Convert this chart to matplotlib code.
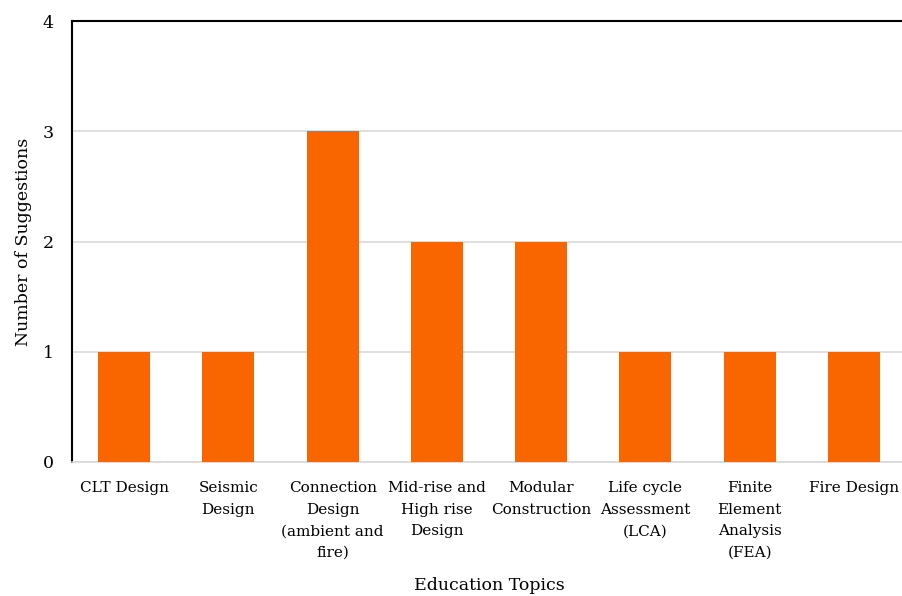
import matplotlib
matplotlib.use('Agg')
import matplotlib.pyplot as plt
import numpy as np

plt.rcParams['font.family'] = ['DejaVu Serif']
plt.rcParams['font.size'] = 11

topics = ['CLT Design', 'Seismic\nDesign', 'Connection\nDesign\n(ambient and\nfire)',
          'Mid-rise and\nHigh rise\nDesign', 'Modular\nConstruction',
          'Life cycle\nAssessment\n(LCA)', 'Finite\nElement\nAnalysis\n(FEA)', 'Fire Design']
suggestions = [1, 1, 3, 2, 2, 1, 1, 1]

fig = plt.figure(figsize=(9.03, 5.96), dpi=100)
ax = fig.add_axes([72 / 903, 1 - 462 / 596, 834 / 903, 441 / 596])

x = np.arange(len(topics))
ax.bar(x, suggestions, 0.5, color='#F96600', zorder=3)

ax.set_xlim(-0.5, len(topics) - 0.5)
ax.set_ylim(0, 4)
ax.set_yticks([0, 1, 2, 3, 4])
ax.yaxis.grid(True, color='#d9d9d9', linewidth=1.2, zorder=0)
ax.set_xticks(x, topics, linespacing=1.68, va='top')
ax.tick_params(axis='both', length=0)
ax.tick_params(axis='x', pad=14, labelsize=11)
ax.tick_params(axis='y', pad=13, labelsize=12.5)

for s in ['left', 'top']:
    ax.spines[s].set_color('black')
    ax.spines[s].set_linewidth(1.5)
ax.spines['right'].set_visible(False)
ax.spines['bottom'].set_color('#d9d9d9')
ax.spines['bottom'].set_linewidth(1.2)

ax.set_xlabel('Education Topics', fontsize=12.5, labelpad=12)
ax.set_ylabel('Number of Suggestions', fontsize=12.5, labelpad=8)

fig.savefig('out.png', dpi=100)
